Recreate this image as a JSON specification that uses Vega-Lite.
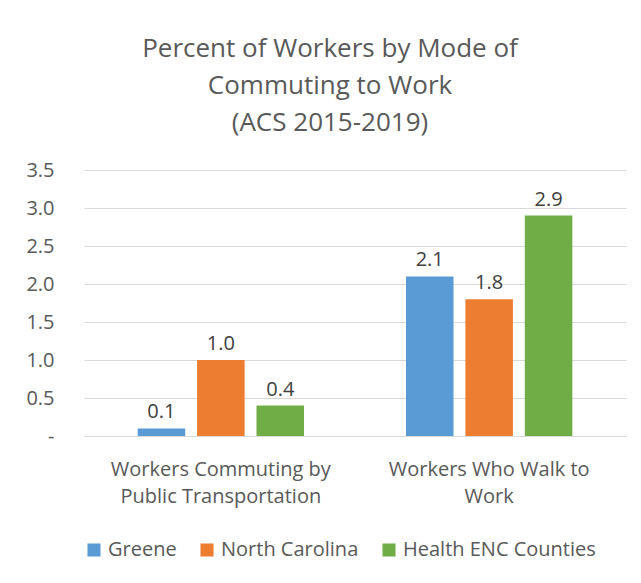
{
  "$schema": "https://vega.github.io/schema/vega-lite/v6.json",
  "width": 542,
  "height": 266,
  "autosize": {"type": "none"},
  "padding": {"left": 84, "top": 170, "right": 15, "bottom": 147},
  "background": "white",
  "title": {
    "text": ["Percent of Workers by Mode of", "Commuting to Work", "(ACS 2015-2019)"],
    "font": "Open Sans",
    "fontSize": 26,
    "fontWeight": "normal",
    "color": "#595959",
    "lineHeight": 37,
    "anchor": "middle",
    "dx": -25,
    "offset": 24
  },
  "data": {
    "values": [
      {"mode": "Workers Commuting by|Public Transportation", "area": "Greene", "value": 0.1},
      {"mode": "Workers Commuting by|Public Transportation", "area": "North Carolina", "value": 1.0},
      {"mode": "Workers Commuting by|Public Transportation", "area": "Health ENC Counties", "value": 0.4},
      {"mode": "Workers Who Walk to|Work", "area": "Greene", "value": 2.1},
      {"mode": "Workers Who Walk to|Work", "area": "North Carolina", "value": 1.8},
      {"mode": "Workers Who Walk to|Work", "area": "Health ENC Counties", "value": 2.9}
    ]
  },
  "encoding": {
    "x": {
      "field": "mode",
      "type": "nominal",
      "sort": null,
      "scale": {"paddingInner": 0.38, "paddingOuter": 0.2},
      "axis": {
        "title": null,
        "labelAngle": 0,
        "labelExpr": "split(datum.label, '|')",
        "labelFont": "Open Sans",
        "labelFontSize": 20,
        "labelColor": "#595959",
        "labelLineHeight": 27,
        "labelPadding": 23,
        "labelLimit": 0,
        "ticks": false,
        "domainColor": "#d9d9d9",
        "domainWidth": 1
      }
    },
    "xOffset": {
      "field": "area",
      "type": "nominal",
      "sort": ["Greene", "North Carolina", "Health ENC Counties"],
      "scale": {"paddingInner": 0.2, "paddingOuter": 0}
    },
    "y": {
      "field": "value",
      "type": "quantitative",
      "scale": {"domain": [0, 3.5]},
      "axis": {
        "title": null,
        "values": [0, 0.5, 1, 1.5, 2, 2.5, 3, 3.5],
        "labelExpr": "datum.value == 0 ? '-' : format(datum.value, '.1f')",
        "labelFont": "Open Sans",
        "labelFontSize": 20,
        "labelColor": "#595959",
        "labelPadding": 30,
        "ticks": false,
        "domain": false,
        "gridColor": "#d9d9d9",
        "gridWidth": 1
      }
    },
    "color": {
      "field": "area",
      "type": "nominal",
      "sort": ["Greene", "North Carolina", "Health ENC Counties"],
      "scale": {
        "domain": ["Greene", "North Carolina", "Health ENC Counties"],
        "range": ["#5B9BD5", "#ED7D31", "#70AD47"]
      },
      "legend": {
        "title": null,
        "orient": "bottom",
        "direction": "horizontal",
        "offset": 34,
        "symbolType": "square",
        "symbolSize": 170,
        "symbolStrokeWidth": 0,
        "labelFont": "Open Sans",
        "labelFontSize": 20,
        "labelColor": "#595959",
        "labelLimit": 0,
        "columnPadding": 20,
        "labelOffset": 4
      }
    }
  },
  "layer": [
    {"mark": {"type": "bar"}},
    {
      "mark": {"type": "text", "dy": -16, "font": "Open Sans", "fontSize": 20, "color": "#404040"},
      "encoding": {
        "text": {"field": "value", "type": "quantitative", "format": ".1f"},
        "color": {"value": "#404040"}
      }
    }
  ],
  "config": {"view": {"stroke": null}}
}
